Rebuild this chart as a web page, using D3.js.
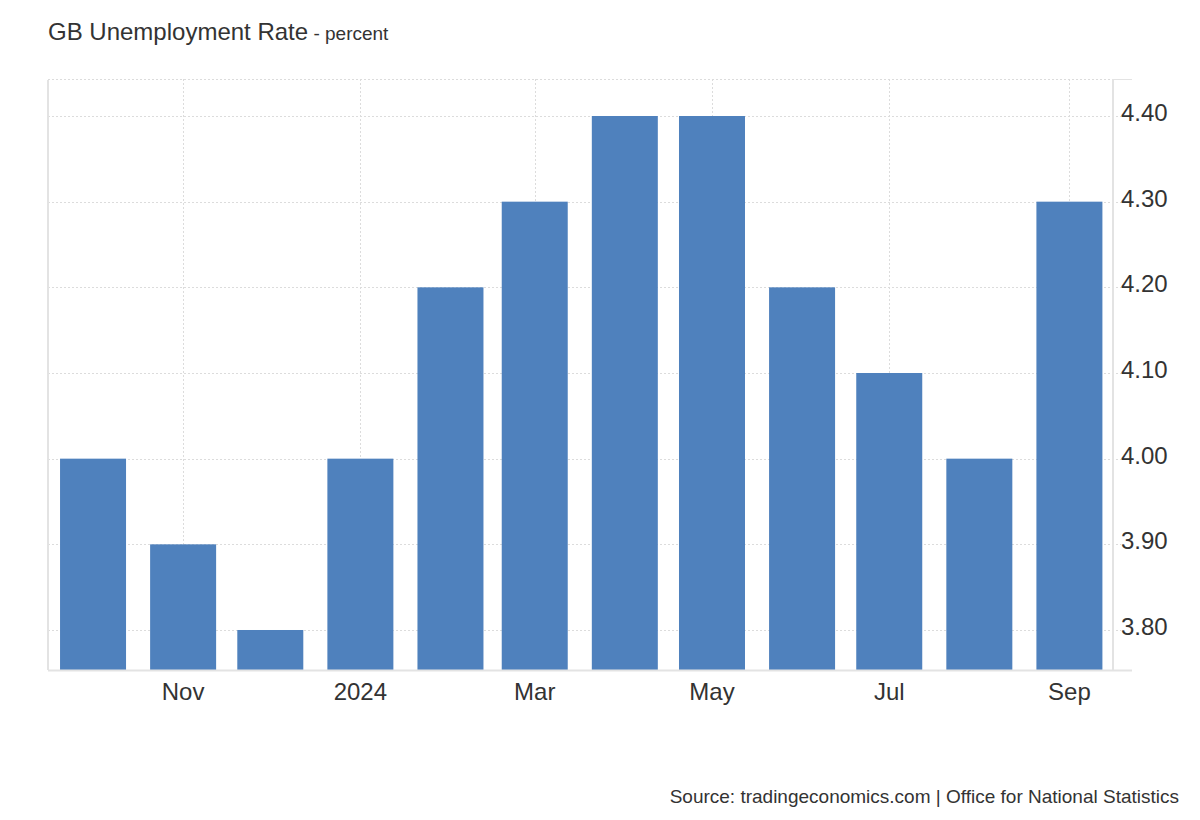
<!DOCTYPE html>
<html>
<head>
<meta charset="utf-8">
<script src="https://cdn.jsdelivr.net/npm/d3@7"></script>
<style>
  body { margin: 0; background: #fff; }
  svg { font-family: Arial, "Liberation Sans", sans-serif; }
</style>
</head>
<body>
<svg id="chart" width="1200" height="820"></svg>
<script>
// data
const months = ["2023-10-01","2023-11-01","2023-12-01","2024-01-01","2024-02-01","2024-03-01",
                "2024-04-01","2024-05-01","2024-06-01","2024-07-01","2024-08-01","2024-09-01"];
const rates = [4.0, 3.9, 3.8, 4.0, 4.2, 4.3, 4.4, 4.4, 4.2, 4.1, 4.0, 4.3];
const yTicks = [3.8, 3.9, 4.0, 4.1, 4.2, 4.3, 4.4];
const xTicks = ["2023-11-01","2024-01-01","2024-03-01","2024-05-01","2024-07-01","2024-09-01"];

const svg = d3.select("#chart");
const plotL = 48, plotR = 1113, plotT = 79, plotB = 670;
const barW = 66;
const barColor = "#4f81bd";
const gridColor = "#dcdcdc";
const axisColor = "#e3e3e3";

const x = d3.scaleUtc()
  .domain([new Date("2023-09-15T12:00:00Z"), new Date("2024-09-16T00:00:00Z")])
  .range([plotL, plotR]);
const y = d3.scaleLinear().domain([3.7533, 4.4432]).range([plotB, plotT]);

// title
const title = svg.append("text").attr("x", 48).attr("y", 40)
  .style("fill", "#333").style("font-size", "24px");
title.append("tspan").text("GB Unemployment Rate");
title.append("tspan").style("font-size", "19px").text(" - percent");

// grid
const g = svg.append("g");
g.selectAll(".hgrid").data(yTicks).join("line")
  .attr("x1", plotL).attr("x2", plotR + 8)
  .attr("y1", d => Math.round(y(d)) + 0.5).attr("y2", d => Math.round(y(d)) + 0.5)
  .attr("stroke", gridColor).attr("stroke-dasharray", "2,2");
g.append("line").attr("x1", plotL).attr("x2", plotR)
  .attr("y1", plotT + 0.5).attr("y2", plotT + 0.5)
  .attr("stroke", gridColor).attr("stroke-dasharray", "2,2");
g.selectAll(".vgrid").data(xTicks).join("line")
  .attr("x1", d => Math.round(x(new Date(d))) + 0.5).attr("x2", d => Math.round(x(new Date(d))) + 0.5)
  .attr("y1", plotT).attr("y2", plotB)
  .attr("stroke", gridColor).attr("stroke-dasharray", "2,2");

// bars
svg.append("g").selectAll("rect").data(months).join("rect")
  .attr("x", (d) => x(new Date(d)) - barW / 2)
  .attr("width", barW)
  .attr("y", (d, i) => y(rates[i]))
  .attr("height", (d, i) => plotB - y(rates[i]))
  .attr("fill", barColor);

// axis lines
svg.append("line").attr("x1", plotL).attr("x2", plotL).attr("y1", plotT + 1).attr("y2", plotB)
  .attr("stroke", axisColor).attr("stroke-width", 2);
svg.append("line").attr("x1", plotR).attr("x2", plotR).attr("y1", plotT).attr("y2", plotB)
  .attr("stroke", axisColor).attr("stroke-width", 2);
svg.append("line").attr("x1", plotR).attr("x2", 1132).attr("y1", plotT + 0.5).attr("y2", plotT + 0.5)
  .attr("stroke", axisColor);
svg.append("line").attr("x1", plotL).attr("x2", 1132).attr("y1", plotB + 0.5).attr("y2", plotB + 0.5)
  .attr("stroke", axisColor).attr("stroke-width", 2);

// y labels
svg.append("g").selectAll("text").data(yTicks).join("text")
  .attr("x", 1121).attr("y", d => y(d) + 5)
  .style("fill", "#333").style("font-size", "24px")
  .text(d => d.toFixed(2));

// x labels
const fmt = d => { const dt = new Date(d); return dt.getUTCMonth() === 0 ? d3.utcFormat("%Y")(dt) : d3.utcFormat("%b")(dt); };
svg.append("g").selectAll("text").data(xTicks).join("text")
  .attr("x", d => x(new Date(d))).attr("y", 700)
  .attr("text-anchor", "middle")
  .style("fill", "#333").style("font-size", "24px")
  .text(fmt);

// source
svg.append("text").attr("x", 1179).attr("y", 803).attr("text-anchor", "end")
  .style("fill", "#333").style("font-size", "19px")
  .text("Source: tradingeconomics.com | Office for National Statistics");
</script>
</body>
</html>
